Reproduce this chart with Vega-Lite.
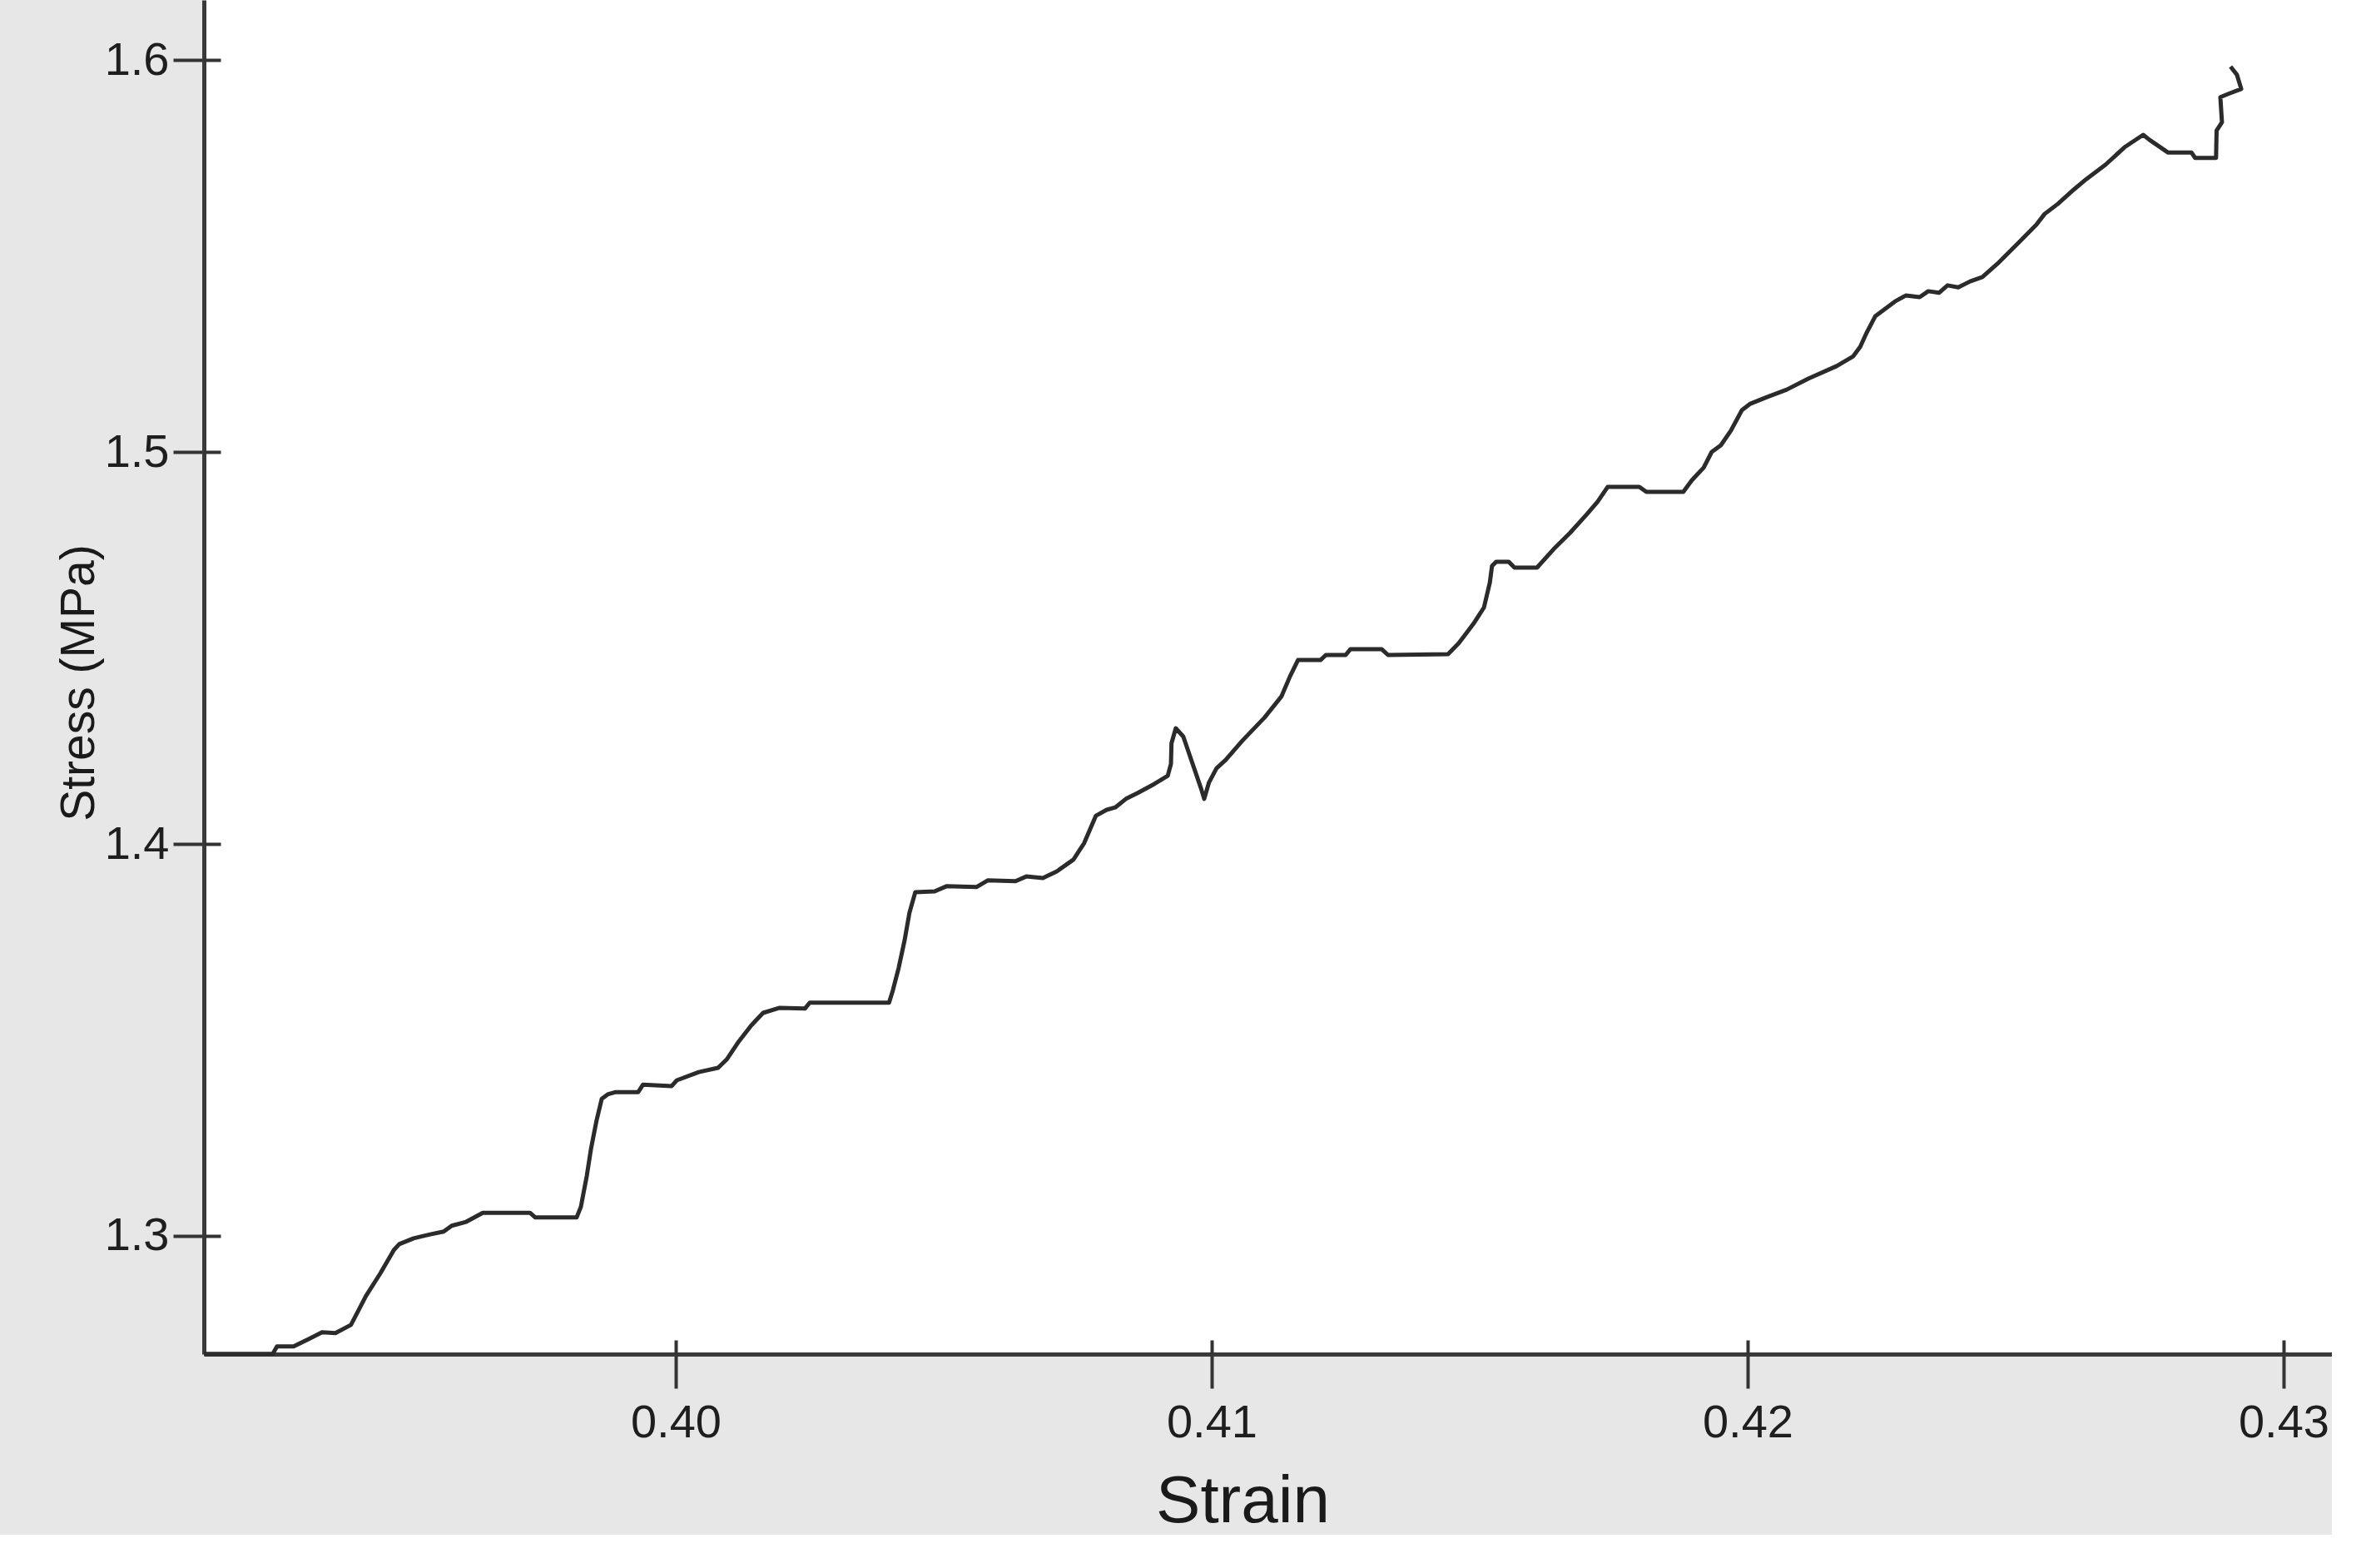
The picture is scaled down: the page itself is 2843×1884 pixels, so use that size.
{
  "$schema": "https://vega.github.io/schema/vega-lite/v6.json",
  "width": 2557,
  "height": 1627,
  "autosize": {"type": "none"},
  "padding": {"left": 245, "top": 0, "right": 0, "bottom": 217},
  "background": "#e7e7e7",
  "view": {"fill": "white", "stroke": null},
  "data": {"values": [
    {"n":1,"strain":0.39120,"stress":1.2699},
    {"n":2,"strain":0.39248,"stress":1.2699},
    {"n":3,"strain":0.39256,"stress":1.2718},
    {"n":4,"strain":0.39287,"stress":1.2718},
    {"n":5,"strain":0.39318,"stress":1.2739},
    {"n":6,"strain":0.39340,"stress":1.2754},
    {"n":7,"strain":0.39365,"stress":1.2752},
    {"n":8,"strain":0.39394,"stress":1.2773},
    {"n":9,"strain":0.39422,"stress":1.2847},
    {"n":10,"strain":0.39449,"stress":1.2905},
    {"n":11,"strain":0.39474,"stress":1.2964},
    {"n":12,"strain":0.39484,"stress":1.2979},
    {"n":13,"strain":0.39511,"stress":1.2994},
    {"n":14,"strain":0.39542,"stress":1.3004},
    {"n":15,"strain":0.39567,"stress":1.3011},
    {"n":16,"strain":0.39582,"stress":1.3026},
    {"n":17,"strain":0.39609,"stress":1.3036},
    {"n":18,"strain":0.39640,"stress":1.3059},
    {"n":19,"strain":0.39728,"stress":1.3059},
    {"n":20,"strain":0.39738,"stress":1.3047},
    {"n":21,"strain":0.39815,"stress":1.3047},
    {"n":22,"strain":0.39823,"stress":1.3074},
    {"n":23,"strain":0.39834,"stress":1.3153},
    {"n":24,"strain":0.39842,"stress":1.3223},
    {"n":25,"strain":0.39852,"stress":1.3293},
    {"n":26,"strain":0.39862,"stress":1.3350},
    {"n":27,"strain":0.39873,"stress":1.3361},
    {"n":28,"strain":0.39888,"stress":1.3367},
    {"n":29,"strain":0.39930,"stress":1.3367},
    {"n":30,"strain":0.39939,"stress":1.3386},
    {"n":31,"strain":0.39992,"stress":1.3382},
    {"n":32,"strain":0.40002,"stress":1.3397},
    {"n":33,"strain":0.40043,"stress":1.3418},
    {"n":34,"strain":0.40079,"stress":1.3429},
    {"n":35,"strain":0.40095,"stress":1.3450},
    {"n":36,"strain":0.40116,"stress":1.3493},
    {"n":37,"strain":0.40141,"stress":1.3537},
    {"n":38,"strain":0.40163,"stress":1.3569},
    {"n":39,"strain":0.40194,"stress":1.3582},
    {"n":40,"strain":0.40241,"stress":1.3580},
    {"n":41,"strain":0.40250,"stress":1.3595},
    {"n":42,"strain":0.40398,"stress":1.3595},
    {"n":43,"strain":0.40405,"stress":1.3626},
    {"n":44,"strain":0.40416,"stress":1.3684},
    {"n":45,"strain":0.40427,"stress":1.3754},
    {"n":46,"strain":0.40436,"stress":1.3824},
    {"n":47,"strain":0.40447,"stress":1.3877},
    {"n":48,"strain":0.40483,"stress":1.3879},
    {"n":49,"strain":0.40505,"stress":1.3892},
    {"n":50,"strain":0.40561,"stress":1.3890},
    {"n":51,"strain":0.40582,"stress":1.3907},
    {"n":52,"strain":0.40634,"stress":1.3905},
    {"n":53,"strain":0.40654,"stress":1.3917},
    {"n":54,"strain":0.40685,"stress":1.3913},
    {"n":55,"strain":0.40711,"stress":1.3930},
    {"n":56,"strain":0.40742,"stress":1.3960},
    {"n":57,"strain":0.40762,"stress":1.4002},
    {"n":58,"strain":0.40784,"stress":1.4072},
    {"n":59,"strain":0.40804,"stress":1.4087},
    {"n":60,"strain":0.40820,"stress":1.4093},
    {"n":61,"strain":0.40840,"stress":1.4115},
    {"n":62,"strain":0.40862,"stress":1.4130},
    {"n":63,"strain":0.40893,"stress":1.4153},
    {"n":64,"strain":0.40918,"stress":1.4174},
    {"n":65,"strain":0.40924,"stress":1.4204},
    {"n":66,"strain":0.40925,"stress":1.4257},
    {"n":67,"strain":0.40933,"stress":1.4295},
    {"n":68,"strain":0.40947,"stress":1.4274},
    {"n":69,"strain":0.40964,"stress":1.4206},
    {"n":70,"strain":0.40980,"stress":1.4142},
    {"n":71,"strain":0.40986,"stress":1.4115},
    {"n":72,"strain":0.40995,"stress":1.4157},
    {"n":73,"strain":0.41009,"stress":1.4193},
    {"n":74,"strain":0.41026,"stress":1.4214},
    {"n":75,"strain":0.41057,"stress":1.4263},
    {"n":76,"strain":0.41099,"stress":1.4323},
    {"n":77,"strain":0.41130,"stress":1.4376},
    {"n":78,"strain":0.41146,"stress":1.4427},
    {"n":79,"strain":0.41161,"stress":1.4469},
    {"n":80,"strain":0.41203,"stress":1.4469},
    {"n":81,"strain":0.41213,"stress":1.4482},
    {"n":82,"strain":0.41250,"stress":1.4482},
    {"n":83,"strain":0.41259,"stress":1.4497},
    {"n":84,"strain":0.41317,"stress":1.4497},
    {"n":85,"strain":0.41329,"stress":1.4482},
    {"n":86,"strain":0.41441,"stress":1.4484},
    {"n":87,"strain":0.41461,"stress":1.4512},
    {"n":88,"strain":0.41488,"stress":1.4561},
    {"n":89,"strain":0.41508,"stress":1.4603},
    {"n":90,"strain":0.41519,"stress":1.4667},
    {"n":91,"strain":0.41523,"stress":1.4709},
    {"n":92,"strain":0.41531,"stress":1.4720},
    {"n":93,"strain":0.41554,"stress":1.4720},
    {"n":94,"strain":0.41565,"stress":1.4705},
    {"n":95,"strain":0.41607,"stress":1.4705},
    {"n":96,"strain":0.41638,"stress":1.4752},
    {"n":97,"strain":0.41669,"stress":1.4794},
    {"n":98,"strain":0.41700,"stress":1.4841},
    {"n":99,"strain":0.41720,"stress":1.4873},
    {"n":100,"strain":0.41739,"stress":1.4911},
    {"n":101,"strain":0.41798,"stress":1.4911},
    {"n":102,"strain":0.41811,"stress":1.4898},
    {"n":103,"strain":0.41880,"stress":1.4898},
    {"n":104,"strain":0.41896,"stress":1.4928},
    {"n":105,"strain":0.41918,"stress":1.4960},
    {"n":106,"strain":0.41933,"stress":1.5000},
    {"n":107,"strain":0.41950,"stress":1.5017},
    {"n":108,"strain":0.41969,"stress":1.5055},
    {"n":109,"strain":0.41989,"stress":1.5106},
    {"n":110,"strain":0.42005,"stress":1.5123},
    {"n":111,"strain":0.42036,"stress":1.5140},
    {"n":112,"strain":0.42073,"stress":1.5159},
    {"n":113,"strain":0.42113,"stress":1.5187},
    {"n":114,"strain":0.42166,"stress":1.5219},
    {"n":115,"strain":0.42197,"stress":1.5244},
    {"n":116,"strain":0.42210,"stress":1.5268},
    {"n":117,"strain":0.42222,"stress":1.5304},
    {"n":118,"strain":0.42238,"stress":1.5346},
    {"n":119,"strain":0.42275,"stress":1.5384},
    {"n":120,"strain":0.42295,"stress":1.5399},
    {"n":121,"strain":0.42321,"stress":1.5395},
    {"n":122,"strain":0.42337,"stress":1.5410},
    {"n":123,"strain":0.42357,"stress":1.5406},
    {"n":124,"strain":0.42373,"stress":1.5425},
    {"n":125,"strain":0.42393,"stress":1.5420},
    {"n":126,"strain":0.42415,"stress":1.5435},
    {"n":127,"strain":0.42438,"stress":1.5446},
    {"n":128,"strain":0.42466,"stress":1.5480},
    {"n":129,"strain":0.42508,"stress":1.5537},
    {"n":130,"strain":0.42539,"stress":1.5580},
    {"n":131,"strain":0.42554,"stress":1.5607},
    {"n":132,"strain":0.42579,"stress":1.5633},
    {"n":133,"strain":0.42610,"stress":1.5671},
    {"n":134,"strain":0.42632,"stress":1.5696},
    {"n":135,"strain":0.42668,"stress":1.5733},
    {"n":136,"strain":0.42703,"stress":1.5777},
    {"n":137,"strain":0.42738,"stress":1.5809},
    {"n":138,"strain":0.42750,"stress":1.5796},
    {"n":139,"strain":0.42784,"stress":1.5764},
    {"n":140,"strain":0.42828,"stress":1.5764},
    {"n":141,"strain":0.42835,"stress":1.5750},
    {"n":142,"strain":0.42874,"stress":1.5750},
    {"n":143,"strain":0.42875,"stress":1.5820},
    {"n":144,"strain":0.42885,"stress":1.5841},
    {"n":145,"strain":0.42882,"stress":1.5905},
    {"n":146,"strain":0.42896,"stress":1.5913},
    {"n":147,"strain":0.42921,"stress":1.5926},
    {"n":148,"strain":0.42913,"stress":1.5962},
    {"n":149,"strain":0.42901,"stress":1.5983}
  ]},
  "layer": [
    {
      "mark": {"type": "line", "color": "#2b2b2b", "strokeWidth": 5, "clip": false, "strokeJoin": "round"},
      "encoding": {
        "x": {
          "field": "strain", "type": "quantitative",
          "scale": {"domain": [0.391196, 0.430901], "nice": false, "zero": false},
          "axis": {
            "orient": "bottom",
            "values": [0.40, 0.41, 0.42, 0.43], "format": ".2f",
            "title": "Strain", "grid": false,
            "domainColor": "#3a3a3a", "domainWidth": 5,
            "tickColor": "#333333", "tickWidth": 4, "tickSize": 41,
            "labelFont": "Liberation Sans", "labelFontSize": 56, "labelColor": "#1e1e1e",
            "labelPadding": 14, "labelFlush": false, "labelOverlap": false,
            "titleFont": "Liberation Sans", "titleFontSize": 80, "titleFontWeight": "normal",
            "titleColor": "#1a1a1a", "titleX": 1248, "titleY": 201,
            "titleBaseline": "alphabetic", "titleAlign": "center"
          }
        },
        "y": {
          "field": "stress", "type": "quantitative",
          "scale": {"domain": [1.26985, 1.61529], "nice": false, "zero": false},
          "axis": {
            "orient": "left",
            "values": [1.3, 1.4, 1.5, 1.6], "format": ".1f",
            "title": "Stress (MPa)", "grid": false,
            "domainColor": "#3a3a3a", "domainWidth": 5,
            "tickColor": "#333333", "tickWidth": 4, "tickSize": 37,
            "labelFont": "Liberation Sans", "labelFontSize": 56, "labelColor": "#1e1e1e",
            "labelPadding": 5, "labelFlush": false, "labelOverlap": false,
            "titleFont": "Liberation Sans", "titleFontSize": 57,
            "titleFontWeight": "normal", "titleColor": "#1a1a1a",
            "titleAngle": 270, "titleX": -133, "titleY": 820,
            "titleBaseline": "alphabetic", "titleAlign": "center"
          }
        },
        "order": {"field": "n", "type": "quantitative"}
      }
    },
    {
      "mark": {"type": "line", "strokeOpacity": 0},
      "encoding": {
        "x": {
          "field": "strain", "type": "quantitative",
          "scale": {"domain": [0.391196, 0.430901], "nice": false, "zero": false},
          "axis": {
            "orient": "bottom", "values": [0.40, 0.41, 0.42, 0.43],
            "labels": false, "domain": false, "title": null, "grid": false,
            "tickColor": "#333333", "tickWidth": 4, "tickSize": -17
          }
        },
        "y": {
          "field": "stress", "type": "quantitative",
          "scale": {"domain": [1.26985, 1.61529], "nice": false, "zero": false},
          "axis": {
            "orient": "left", "values": [1.3, 1.4, 1.5, 1.6],
            "labels": false, "domain": false, "title": null, "grid": false,
            "tickColor": "#333333", "tickWidth": 4, "tickSize": -20
          }
        },
        "order": {"field": "n", "type": "quantitative"}
      }
    }
  ],
  "resolve": {"axis": {"x": "independent", "y": "independent"}}
}
